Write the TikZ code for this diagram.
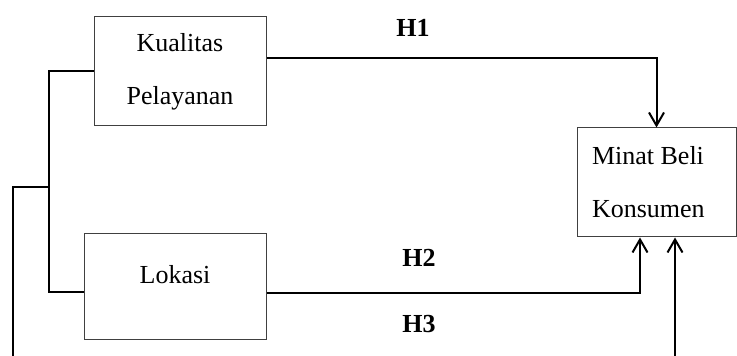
\documentclass[tikz,border=0pt]{standalone}
\usepackage{fontspec}
\setmainfont{Liberation Serif}
\usetikzlibrary{arrows.meta}

\begin{document}
\begin{tikzpicture}[x=0.5pt, y=-0.5pt,
    variabel/.style ={rectangle, draw=black!75, line width=0.5pt, inner sep=0pt,
      font=\fontsize{13}{26.5}\selectfont, align=center},
    hipotesis/.style ={font=\fontsize{13}{15}\selectfont\bfseries},
    panah/.style ={line width=1pt, -{Straight Barb[length=6.5pt, width=7.5pt]}}]
   \useasboundingbox (0,0) rectangle (737,356);
   \node[variabel, minimum width=86pt, minimum height=54.5pt] (kp) at (180,71.5) {Kualitas\\Pelayanan};
   \node[variabel, minimum width=91pt, minimum height=53pt] (lok) at (175,287) {};
   \node[font=\fontsize{13}{15}\selectfont] (lokteks) at ([yshift=6pt]lok.center) {Lokasi};
   \node[variabel, align=flush left, text width=64.5pt, inner xsep=7.5pt, minimum height=54.5pt] (mb) at (656.5,182.5) {Minat Beli\\Konsumen};
   \node[hipotesis] (h1) at (413,28) {H1};
   \node[hipotesis] (h2) at (419,258) {H2};
   \node[hipotesis] (h3) at (419,324) {H3};
   \coordinate (cabang) at (49,187);
   \coordinate (kiri) at (13,356);
   \coordinate (bawah) at (675,356);
   \draw[panah] ([yshift=6.75pt]kp.east) -| (mb.north);
   \draw[panah] ([yshift=-3pt]lok.east) -| ([xshift=-8.25pt]mb.south);
   \draw[panah] (bawah) -- ([xshift=9.25pt]mb.south);
   \draw[line width=1pt] (kp.west) -| (cabang) |- ([yshift=-2.5pt]lok.west);
   \draw[line width=1pt] (kiri) |- (cabang);
\end{tikzpicture}
\end{document}
